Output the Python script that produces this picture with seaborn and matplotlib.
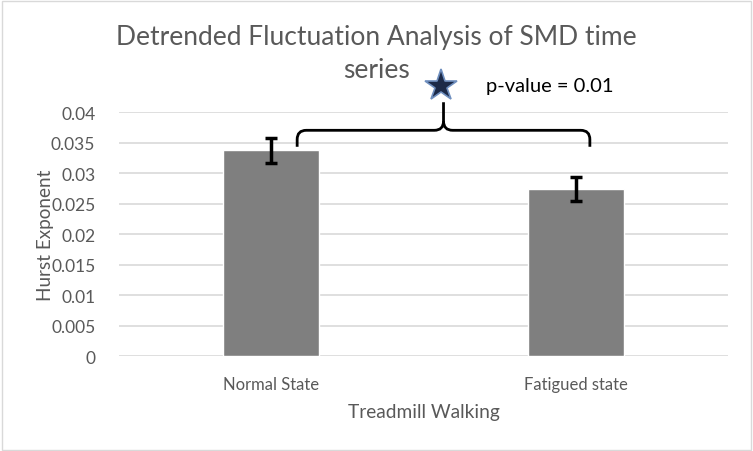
import matplotlib
matplotlib.use("Agg")
import matplotlib.pyplot as plt
import seaborn as sns
import pandas as pd
import numpy as np
from matplotlib.path import Path
from matplotlib.patches import PathPatch, Rectangle

categories = ["Normal State", "Fatigued state"]
hurst = [0.0337, 0.0274]
errors = [0.0021, 0.0020]
yticks = [0, 0.005, 0.01, 0.015, 0.02, 0.025, 0.03, 0.035, 0.04]
ytick_labels = ["0", "0.005", "0.01", "0.015", "0.02", "0.025", "0.03", "0.035", "0.04"]
title_lines = ["Detrended Fluctuation Analysis of SMD time", "series"]
p_text = "p-value = 0.01"

sns.set_style("white")
plt.rcParams['font.family'] = ['Lato', 'DejaVu Sans']
txt = "#595959"

fig = plt.figure(figsize=(7.53, 4.52), dpi=100)
ax = fig.add_axes([0.158, 0.210, 0.809, 0.540])

df = pd.DataFrame({"state": categories, "hurst": hurst})
sns.barplot(data=df, x="state", y="hurst", color="#7f7f7f", saturation=1,
            width=0.315, errorbar=None, ax=ax, zorder=3)
ax.errorbar(range(len(categories)), hurst, yerr=errors, fmt="none",
            ecolor="black", elinewidth=2.5, capsize=4.5, capthick=2.5, zorder=4)

ax.set_ylim(0, 0.04)
ax.set_xlim(-0.5, 1.5)
ax.set_yticks(yticks)
ax.set_yticklabels(ytick_labels, color=txt, fontsize=12.5)
ax.set_xticks(range(len(categories)))
ax.set_xticklabels(categories, color=txt, fontsize=12)
ax.tick_params(axis="y", length=0, pad=17)
ax.tick_params(axis="x", length=0, pad=14)
ax.yaxis.grid(True, color="#d9d9d9", linewidth=1.2, zorder=0)
ax.set_axisbelow(True)
for s in ax.spines.values():
    s.set_visible(False)
ax.set_xlabel("Treadmill Walking", color=txt, fontsize=13.8, labelpad=8)
ax.set_ylabel("Hurst Exponent", color=txt, fontsize=13.6, labelpad=-2)

fig.text(0.5, 1 - 37 / 452, title_lines[0], ha="center", va="center", color=txt,
         fontsize=19)
fig.text(0.5, 1 - 70 / 452, title_lines[1], ha="center", va="center", color=txt,
         fontsize=19)

# significance bracket
x0, x1 = 0.085, 1.046
xm = (x0 + x1) / 2
yb = 0.0343
yh = 0.0370
ytip = 0.0416
rx, ry = 0.03, 0.0015
verts = [(x0, yb), (x0, yh - ry), (x0, yh), (x0 + rx, yh),
         (xm - rx, yh), (xm, yh), (xm, yh + ry), (xm, ytip)]
codes = [Path.MOVETO, Path.LINETO, Path.CURVE3, Path.CURVE3,
         Path.LINETO, Path.CURVE3, Path.CURVE3, Path.LINETO]
p1 = PathPatch(Path(verts, codes), fill=False, lw=2, ec="black", clip_on=False, zorder=5)
verts2 = [(x1, yb), (x1, yh - ry), (x1, yh), (x1 - rx, yh),
          (xm + rx, yh), (xm, yh), (xm, yh + ry)]
codes2 = [Path.MOVETO, Path.LINETO, Path.CURVE3, Path.CURVE3,
          Path.LINETO, Path.CURVE3, Path.CURVE3]
p2 = PathPatch(Path(verts2, codes2), fill=False, lw=2, ec="black", clip_on=False, zorder=5)
ax.add_patch(p1)
ax.add_patch(p2)

ax.plot([xm - 0.008], [0.0443], marker="*", markersize=24, color="#1c2a48",
        markeredgecolor="#6f8fbf", markeredgewidth=1.2, clip_on=False, zorder=6)
ax.text(xm + 0.14, 0.0443, p_text, ha="left", va="center", fontsize=14.5,
        color="black", clip_on=False)

fig.add_artist(Rectangle((0.002, 0.003), 0.995, 0.993, transform=fig.transFigure,
                         fill=False, ec="#d9d9d9", lw=1))

fig.savefig("out.png", dpi=100)
